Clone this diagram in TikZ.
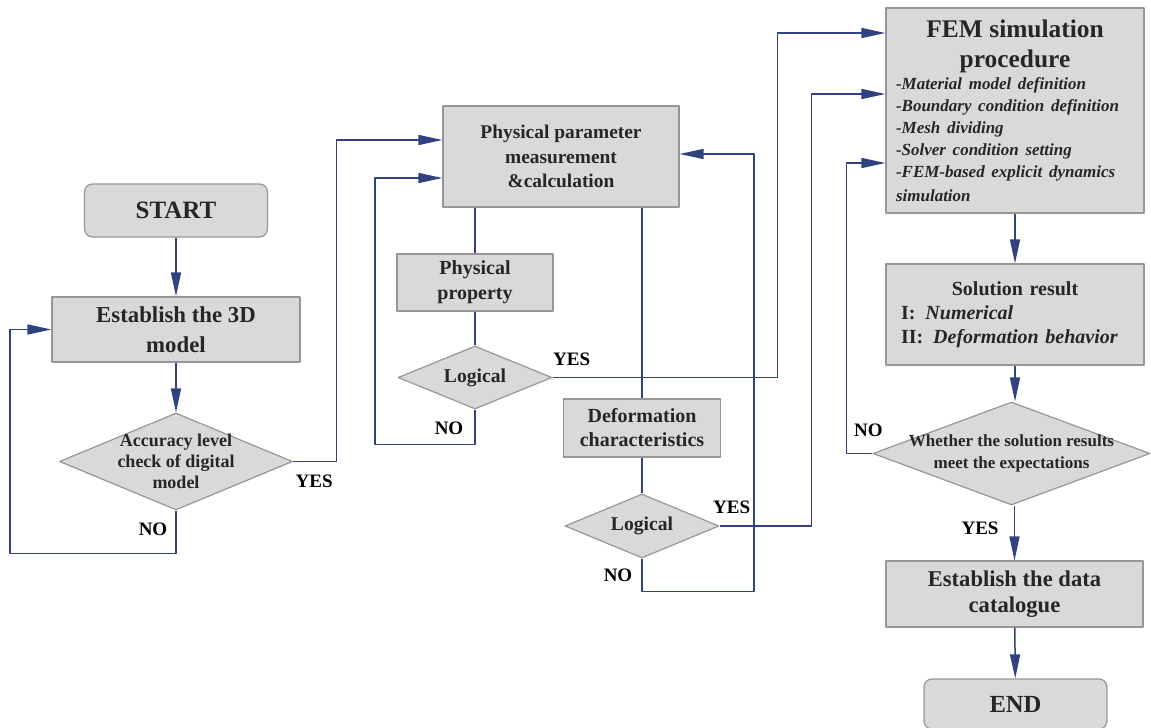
\documentclass[tikz,border=0pt]{standalone}
\usepackage{fontspec}
\setmainfont{LiberationSerif}[Extension=.ttf,UprightFont=*-Regular,BoldFont=*-Bold,ItalicFont=*-Italic,BoldItalicFont=*-BoldItalic]
\usetikzlibrary{shapes.geometric,arrows.meta,calc}
\definecolor{flowblue}{RGB}{50,66,128}
\definecolor{boxgray}{RGB}{217,217,217}
\definecolor{edgegray}{RGB}{150,150,150}
\definecolor{txtgray}{RGB}{38,38,38}
\newcommand{\fs}[2]{\fontsize{#1}{#2}\selectfont}

\begin{document}
\begin{tikzpicture}[x=0.5pt,y=-0.5pt,line join=round,
		box/.style={draw=edgegray,fill=boxgray,line width=0.6pt,inner sep=0pt,align=center,text=txtgray,font=\bfseries},
		term/.style={box,rounded corners=4pt,minimum width=91.5pt},
		decision/.style={diamond,draw=edgegray,fill=boxgray,line width=0.6pt,inner sep=0pt},
		dtext/.style={align=center,text=txtgray,inner sep=0pt},
		flow/.style={draw=flowblue,line width=0.75pt,-{Triangle[length=12pt,width=5pt]}},
		link/.style={draw=flowblue,line width=0.75pt},
		lbl/.style={font=\bfseries\fs{9.5}{11},text=black,inner sep=0pt}]
	\useasboundingbox (0,0) rectangle (1151,728);
	% left column
	\node[term,minimum height=26.5pt,font=\bfseries\fs{12.5}{15}] (start) at (176,210.5) {START};
	\node[box,minimum width=124pt,minimum height=32.5pt,font=\bfseries\fs{11.4}{15}] (model) at (176,329.5) {Establish the 3D\\model};
	\node[decision,minimum width=116.5pt,minimum height=48.5pt,
		label={[dtext,font=\bfseries\fs{9}{10.5}]center:{Accuracy level\\check of digital\\model}}] (acc) at (176,461.5) {};
	% middle column
	\node[box,minimum width=118pt,minimum height=50.5pt,font=\bfseries\fs{9.7}{12.2}] (phys) at (561,156.5) {Physical parameter\\measurement\\\&calculation};
	\node[box,minimum width=78pt,minimum height=28.5pt,font=\bfseries\fs{10}{12.5}] (prop) at (475,282.5) {Physical\\property};
	\node[decision,minimum width=77pt,minimum height=31.5pt,
		label={[dtext,font=\bfseries\fs{9.8}{12}]center:Logical}] (log1) at (475,377.5) {};
	\node[box,minimum width=78.5pt,minimum height=29pt,font=\bfseries\fs{10}{12}] (def) at (642,428) {Deformation\\characteristics};
	\node[decision,minimum width=77pt,minimum height=32pt,
		label={[dtext,font=\bfseries\fs{9.8}{12}]center:Logical}] (log2) at (642,526) {};
	% right column
	\node[box,minimum width=129pt,minimum height=102.5pt,text width=119pt,align=left] (fem) at (1015,110.5)
		{{\centering\fs{12.7}{15}FEM simulation\\procedure\par}
		\fs{8.5}{11}\itshape -Material model definition\\-Boundary condition definition\\-Mesh dividing\\-Solver condition setting\\-FEM-based explicit dynamics\\simulation};
	\node[box,minimum width=129pt,minimum height=50.5pt,text width=114pt,align=left,font=\bfseries\fs{10}{12}] (sol) at (1015,314.5)
		{{\centering Solution result\par}I:\hspace{5pt}\textit{Numerical}\\II:\hspace{5pt}\textit{Deformation behavior}};
	\node[decision,minimum width=138.5pt,minimum height=51.5pt,
		label={[dtext,font=\bfseries\fs{8.5}{11}]center:{Whether the solution results\\meet the expectations}}] (whe) at (1011.5,453.5) {};
	\node[box,minimum width=128.5pt,minimum height=33pt,font=\bfseries\fs{11.3}{13}] (cat) at (1014.5,594) {Establish the data\\catalogue};
	\node[term,minimum height=25pt,font=\bfseries\fs{12.3}{15}] (end) at (1015.5,704) {END};
	% connectors
	\draw[flow] (start) -- (model);
	\draw[flow] (model) -- (acc);
	\draw[flow] (acc.south) |- ++(-166,43) |- (model.west);
	\draw[flow] (acc.east) -| ($(phys.west)+(-106,-16.5)$) -- ($(phys.west)+(0,-16.5)$);
	\draw[link] (prop.north |- phys.south) -- (prop);
	\draw[link] (prop) -- (log1);
	\draw[flow] (log1.south) |- ++(-100,35) |- ($(phys.west)+(0,21.5)$);
	\draw[flow] (log1.east) -| ($(fem.west)+(-108,-77.5)$) -- ($(fem.west)+(0,-77.5)$);
	\draw[link] (def.north |- phys.south) -- (def);
	\draw[link] (def) -- (log2);
	\draw[flow] (log2.east) -| ($(fem.west)+(-74,-16.5)$) -- ($(fem.west)+(0,-16.5)$);
	\draw[flow] (log2.south) |- ++(112,33) |- ($(phys.east)+(0,-2.5)$);
	\draw[flow] (fem) -- (sol);
	\draw[flow] (sol.south) -- (sol.south |- whe.north);
	\draw[flow] (whe.west) -| ($(fem.west)+(-39,52.5)$) -- ($(fem.west)+(0,52.5)$);
	\draw[flow] (cat.north |- whe.south) -- (cat.north);
	\draw[flow] (cat) -- (end);
	% yes / no
	\node[lbl] (accyes) at ($(acc.east)+(21,19.5)$) {YES};
	\node[lbl] (accno) at ($(acc.south)+(-23,19)$) {NO};
	\node[lbl] (log1yes) at ($(log1.east)+(19,-18.5)$) {YES};
	\node[lbl] (log1no) at ($(log1.south)+(-26,19)$) {NO};
	\node[lbl] (log2yes) at ($(log2.east)+(12,-19)$) {YES};
	\node[lbl] (log2no) at ($(log2.south)+(-24,17)$) {NO};
	\node[lbl] (wheno) at ($(whe.west)+(-4,-23.5)$) {NO};
	\node[lbl] (wheyes) at ($(whe.south)+(-31.5,23)$) {YES};
\end{tikzpicture}
\end{document}
